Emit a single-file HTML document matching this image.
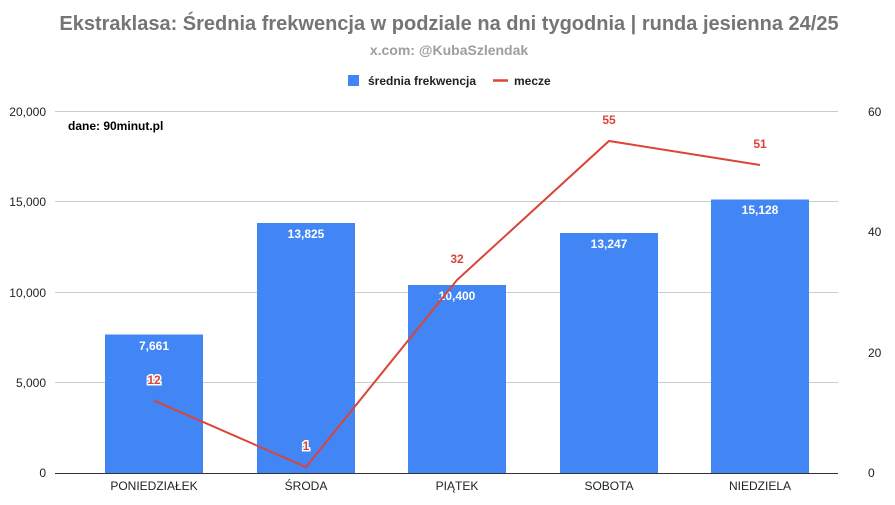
<!DOCTYPE html>
<html><head><meta charset="utf-8"><style>
html,body{margin:0;padding:0;background:#fff;}
svg{display:block;font-family:"Liberation Sans",Arial,sans-serif;}
</style></head><body>
<svg width="895" height="505" viewBox="0 0 895 505">
<text x="449" y="30" text-anchor="middle" font-size="20" font-weight="bold" fill="#757575">Ekstraklasa: Średnia frekwencja w podziale na dni tygodnia | runda jesienna 24/25</text>
<text x="449" y="55" text-anchor="middle" font-size="14" font-weight="bold" fill="#9e9e9e">x.com: @KubaSzlendak</text>
<rect x="348" y="75" width="11" height="11" fill="#4285f4"/>
<text x="368" y="85" font-size="12" font-weight="bold" fill="#222">średnia frekwencja</text>
<line x1="493" y1="80.5" x2="508" y2="80.5" stroke="#db4437" stroke-width="2.5"/>
<text x="514" y="85" font-size="12" font-weight="bold" fill="#222">mecze</text>
<g stroke="#ccc" stroke-width="1">
<line x1="55" y1="111.5" x2="838" y2="111.5"/>
<line x1="55" y1="201.5" x2="838" y2="201.5"/>
<line x1="55" y1="292.5" x2="838" y2="292.5"/>
<line x1="55" y1="382.5" x2="838" y2="382.5"/>
</g>
<g font-size="12" fill="#222" text-anchor="end">
<text x="46" y="116">20,000</text><text x="46" y="206">15,000</text><text x="46" y="297">10,000</text><text x="46" y="387">5,000</text><text x="46" y="477">0</text>
</g>
<g font-size="12" fill="#222" text-anchor="start">
<text x="868" y="116">60</text><text x="868" y="236">40</text><text x="868" y="357">20</text><text x="868" y="477">0</text>
</g>
<text x="68" y="130" font-size="12" font-weight="bold" fill="#000">dane: 90minut.pl</text>
<g fill="#4285f4">
<rect x="105" y="334.5" width="98" height="138.5"/>
<rect x="257" y="223" width="98" height="250"/>
<rect x="408" y="285" width="98" height="188"/>
<rect x="560" y="233" width="98" height="240"/>
<rect x="711" y="199.5" width="98" height="273.5"/>
</g>
<line x1="55" y1="473.5" x2="838" y2="473.5" stroke="#333" stroke-width="1"/>
<g font-size="12" font-weight="bold" fill="#fff" text-anchor="middle">
<text x="154" y="350">7,661</text><text x="306" y="238">13,825</text><text x="457" y="300">10,400</text><text x="609" y="248">13,247</text><text x="760" y="214">15,128</text>
</g>
<polyline points="154,400.6 306,467 457,280 609,141 760,165" fill="none" stroke="#db4437" stroke-width="2"/>
<g font-size="12" font-weight="bold" fill="#db4437" text-anchor="middle" stroke="#fff" stroke-width="3" paint-order="stroke">
<text x="154" y="384">12</text><text x="306" y="450">1</text><text x="457" y="263">32</text><text x="609" y="124">55</text><text x="760" y="148">51</text>
</g>
<g font-size="12" fill="#222" text-anchor="middle">
<text x="154" y="490">PONIEDZIAŁEK</text><text x="306" y="490">ŚRODA</text><text x="457" y="490">PIĄTEK</text><text x="609" y="490">SOBOTA</text><text x="760" y="490">NIEDZIELA</text>
</g>
</svg>
</body></html>
